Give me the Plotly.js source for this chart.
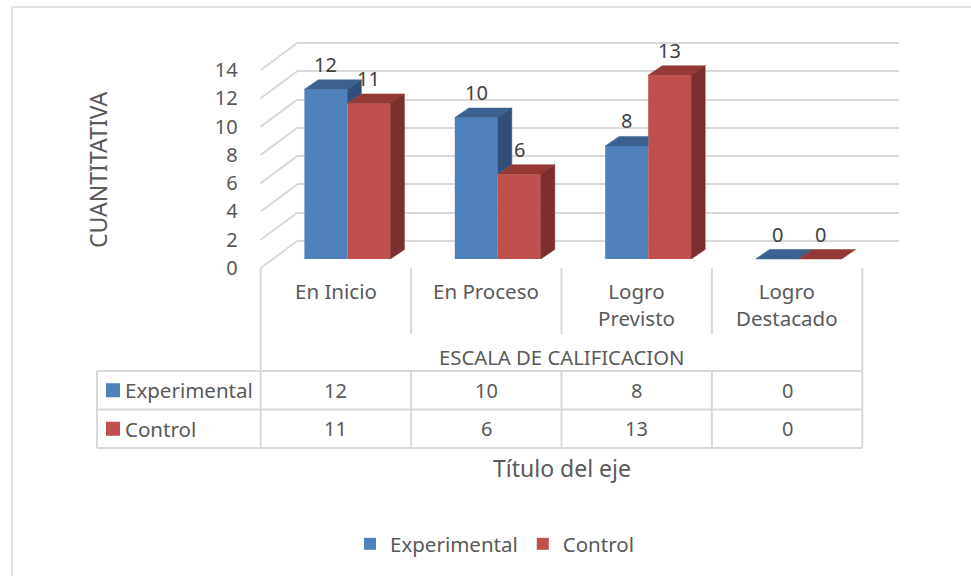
<!DOCTYPE html>
<html>
<head>
<meta charset="utf-8">
<script src="https://cdn.plot.ly/plotly-3.0.1.min.js"></script>
<style>html,body{margin:0;padding:0;background:#fff;}#chart{width:971px;height:576px;}</style>
</head>
<body>
<div id="chart"></div>
<script>
// ---- data ----
const categories = ['En Inicio', 'En Proceso', 'Logro Previsto', 'Logro Destacado'];
const categoryLabels = ['En Inicio', 'En Proceso', 'Logro<br>Previsto', 'Logro<br>Destacado'];
const seriesNames = ['Experimental', 'Control'];
const experimental = [12, 10, 8, 0];
const control = [11, 6, 13, 0];
const yTicks = [0, 2, 4, 6, 8, 10, 12, 14];
const yAxisTitle = 'CUANTITATIVA';
const categoryAxisTitle = 'ESCALA DE CALIFICACION';
const xAxisTitle = 'Título del eje';

// ---- styling / geometry ----
const W = 971, H = 576;
const px = x => x / W;
const py = y => 1 - y / H;
const FRONT_L = 260.7, COL = 150.4, FRONT_BASE = 268, S = 14.14, TOP = 38, DOM_BOT = 272;
const BAR_DX = 11.5, BAR_DY = 9, BACK_DX = 36.5, BACK_DY = 27;
const BAR_W_PX = 43, DEPTH_DX_PX = 14, DEPTH_DY_PX = 9.5;
const FONT = 'Noto Sans, Open Sans, sans-serif';
const TXT = '#595959', GRID = '#D9D9D9';
const COLORS = {
  expFront: '#4F81BD', expTop: '#3B6191', expSide: '#30507B',
  ctlFront: '#C0504D', ctlTop: '#953937', ctlSide: '#7B2E2D'
};

const w = BAR_W_PX / COL, dx = DEPTH_DX_PX / COL, dy = DEPTH_DY_PX / S;
const xs = categories.map((_, i) => i);
const BAR_BASE = FRONT_BASE - BAR_DY;

const traces = [];
// back wall (empty trace so its subplot exists)
traces.push({type: 'scatter', x: [null], y: [null], xaxis: 'x', yaxis: 'y', showlegend: false, hoverinfo: 'skip'});

// front faces as bars
traces.push({type: 'bar', name: seriesNames[0], x: xs, y: experimental, width: w, offset: -w,
  xaxis: 'x2', yaxis: 'y2', marker: {color: COLORS.expFront, line: {width: 0}}, hovertext: categories});
traces.push({type: 'bar', name: seriesNames[1], x: xs, y: control, width: w, offset: 0,
  xaxis: 'x2', yaxis: 'y2', marker: {color: COLORS.ctlFront, line: {width: 0}}, hovertext: categories});

function poly(pts, color) {
  traces.push({type: 'scatter', xaxis: 'x2', yaxis: 'y2',
    x: pts.map(p => p[0]).concat([pts[0][0]]),
    y: pts.map(p => p[1]).concat([pts[0][1]]),
    mode: 'lines', fill: 'toself', fillcolor: color,
    line: {color: color, width: 0.5}, hoverinfo: 'skip', showlegend: false});
}

xs.forEach((c, i) => {
  const e = experimental[i], k = control[i];
  if (e >= k) poly([[c - w, e], [c, e], [c + dx, e + dy], [c - w + dx, e + dy]], COLORS.expTop);
  else poly([[c - w, e], [c, e], [c, e + dy], [c - w + dx, e + dy]], COLORS.expTop);
  if (e > k) poly([[c, k], [c, e], [c + dx, e + dy], [c + dx, k + dy]], COLORS.expSide);
  poly([[c, k], [c + w, k], [c + w + dx, k + dy], [c + dx, k + dy]], COLORS.ctlTop);
  if (k > 0) poly([[c + w, 0], [c + w, k], [c + w + dx, k + dy], [c + w + dx, dy]], COLORS.ctlSide);
});

// ---- annotations ----
const annotations = [];
function note(o) {
  annotations.push(Object.assign({xref: 'paper', yref: 'paper', xanchor: 'center', yanchor: 'middle',
    showarrow: false}, o));
}
xs.forEach((c, i) => {
  note({xref: 'x2', yref: 'y2', x: c - w / 2, y: experimental[i], yshift: 25,
    text: String(experimental[i]), font: {family: FONT, size: 20, color: '#404040'}});
  note({xref: 'x2', yref: 'y2', x: c + w / 2, y: control[i], yshift: 25,
    text: String(control[i]), font: {family: FONT, size: 20, color: '#404040'}});
});
categoryLabels.forEach((t, i) => {
  note({x: px(FRONT_L + COL * (i + 0.5)), y: py(275), yanchor: 'top', text: t, align: 'center',
    font: {family: FONT, size: 20.5, color: TXT}});
});
note({x: px(FRONT_L + 2 * COL), y: py(357), text: categoryAxisTitle, font: {family: FONT, size: 20.3, color: TXT}});
note({x: px(FRONT_L + 2 * COL), y: py(468), text: xAxisTitle, font: {family: FONT, size: 23, color: TXT}});
note({x: px(98), y: py(170), text: yAxisTitle, textangle: -90, font: {family: FONT, size: 23, color: TXT}});

// data table
const ROW_Y = [371, 409.5, 448];
const seriesData = [experimental, control];
const seriesColors = [COLORS.expFront, COLORS.ctlFront];
const shapes = [];
seriesNames.forEach((name, r) => {
  const cy = (ROW_Y[r] + ROW_Y[r + 1]) / 2;
  note({x: px(123), y: py(cy), xanchor: 'left', text: name, font: {family: FONT, size: 20.5, color: TXT}});
  shapes.push({type: 'rect', xref: 'paper', yref: 'paper', x0: px(106), x1: px(120), y0: py(cy - 7), y1: py(cy + 7),
    fillcolor: seriesColors[r], line: {width: 0}});
  seriesData[r].forEach((v, i) => {
    note({x: px(FRONT_L + COL * (i + 0.5)), y: py(cy), text: String(v), font: {family: FONT, size: 20, color: TXT}});
  });
});

// ---- lines ----
function line(x0, y0, x1, y1, color, width) {
  shapes.push({type: 'line', xref: 'paper', yref: 'paper', x0: px(x0), y0: py(y0), x1: px(x1), y1: py(y1),
    line: {color: color || GRID, width: width || 2}});
}
yTicks.forEach(v => line(FRONT_L, FRONT_BASE - v * S, FRONT_L + BACK_DX, FRONT_BASE - BACK_DY - v * S));
line(FRONT_L, FRONT_BASE, FRONT_L, ROW_Y[0]);
for (let i = 1; i < categories.length; i++) line(FRONT_L + COL * i, FRONT_BASE, FRONT_L + COL * i, 334);
line(FRONT_L + COL * 4, FRONT_BASE, FRONT_L + COL * 4, ROW_Y[2]);
ROW_Y.forEach(y => line(97, y, FRONT_L + COL * 4, y));
line(97, ROW_Y[0], 97, ROW_Y[2]);
for (let i = 0; i < categories.length; i++) line(FRONT_L + COL * i, ROW_Y[0], FRONT_L + COL * i, ROW_Y[2]);
line(12, 7, 12, 576, GRID, 1.5);
line(12, 7, 971, 7, GRID, 1.5);

const layout = {
  width: W, height: H, autosize: false,
  margin: {l: 0, r: 0, t: 0, b: 0, pad: 0},
  paper_bgcolor: '#ffffff', plot_bgcolor: 'rgba(0,0,0,0)',
  font: {family: FONT, color: TXT},
  barmode: 'overlay',
  showlegend: true,
  legend: {orientation: 'h', x: px(350), xanchor: 'left', y: py(544), yanchor: 'middle',
    font: {family: FONT, size: 20.5, color: TXT}, bgcolor: 'rgba(0,0,0,0)', traceorder: 'normal'},
  xaxis: {domain: [px(FRONT_L + BACK_DX), px(FRONT_L + BACK_DX + 4 * COL)], range: [0, 1], anchor: 'y',
    showgrid: false, zeroline: false, showticklabels: false, showline: false, fixedrange: true},
  yaxis: {domain: [py(FRONT_BASE - BACK_DY + 0.3 * S), py(TOP)], range: [-0.3, (FRONT_BASE - BACK_DY - TOP) / S],
    anchor: 'x', tickvals: yTicks, showgrid: true, gridcolor: GRID, gridwidth: 2, zeroline: false,
    showticklabels: false, showline: false, ticks: '', fixedrange: true},
  xaxis2: {domain: [px(FRONT_L + BAR_DX), px(FRONT_L + BAR_DX + 4 * COL)], range: [-0.5, 3.5], anchor: 'y2',
    showgrid: false, zeroline: false, showticklabels: false, showline: false, fixedrange: true},
  yaxis2: {domain: [py(DOM_BOT), py(TOP)], range: [-(DOM_BOT - BAR_BASE) / S, (BAR_BASE - TOP) / S], anchor: 'x2',
    showgrid: false, zeroline: false, showticklabels: false, showline: false, fixedrange: true},
  yaxis3: {overlaying: 'y2', anchor: 'free', position: px(FRONT_L), side: 'left',
    range: [-(DOM_BOT - FRONT_BASE) / S, (FRONT_BASE - TOP) / S], tickvals: yTicks,
    ticks: 'outside', ticklen: 19, tickcolor: 'rgba(0,0,0,0)', showgrid: false, zeroline: false, showline: false,
    tickfont: {family: FONT, size: 20, color: TXT}, fixedrange: true},
  annotations: annotations,
  shapes: shapes
};

traces.push({type: 'scatter', x: [null], y: [null], xaxis: 'x2', yaxis: 'y3', showlegend: false, hoverinfo: 'skip'});

Plotly.newPlot('chart', traces, layout, {displayModeBar: false, staticPlot: true});
</script>
</body>
</html>
